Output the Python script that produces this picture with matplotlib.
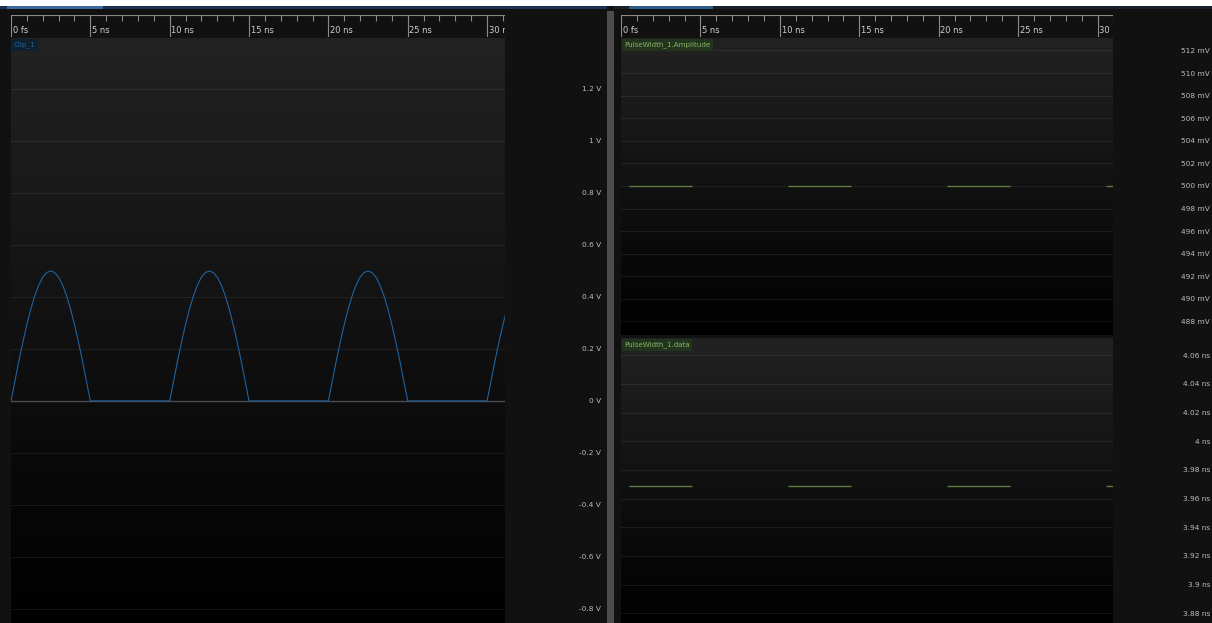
import numpy as np
import matplotlib
matplotlib.use('Agg')
from matplotlib import pyplot as plt
from matplotlib.colors import LinearSegmentedColormap
from matplotlib.transforms import offset_copy

# Clip_1: one half-sine hump (V), sampled every 0.25 ns, then flat zero half period
clip_step_ns = 0.25
clip_hump_v = [0.0, 0.078, 0.155, 0.227, 0.294, 0.354, 0.405, 0.446, 0.476, 0.494, 0.5,
               0.494, 0.476, 0.446, 0.405, 0.354, 0.294, 0.227, 0.155, 0.078, 0.0]
clip_flat_v = [0.0] * 19
n_cycles = 4

# PulseWidth_1 measurements
pulse_start_ns = [0.53, 10.53, 20.53, 30.53]
pulse_width_ns = [3.969, 3.969, 3.969, 3.969]
pulse_amp_mv = [500, 500, 500, 500]

volt_ticks = [1.2, 1.0, 0.8, 0.6, 0.4, 0.2, 0.0, -0.2, -0.4, -0.6, -0.8]
volt_labels = ['1.2 V', '1 V', '0.8 V', '0.6 V', '0.4 V', '0.2 V', '0 V',
               '-0.2 V', '-0.4 V', '-0.6 V', '-0.8 V']
amp_ticks = [512, 510, 508, 506, 504, 502, 500, 498, 496, 494, 492, 490, 488]
amp_labels = ['%d mV' % a for a in amp_ticks]
width_ticks = [4.06, 4.04, 4.02, 4.0, 3.98, 3.96, 3.94, 3.92, 3.9, 3.88]
width_labels = ['4.06 ns', '4.04 ns', '4.02 ns', '4 ns', '3.98 ns', '3.96 ns',
                '3.94 ns', '3.92 ns', '3.9 ns', '3.88 ns']
time_major = [0, 5, 10, 15, 20, 25, 30]
time_labels = ['0 fs', '5 ns', '10 ns', '15 ns', '20 ns', '25 ns', '30 ns']

W, H = 1212, 623
BG = '#111111'
TXT = '#bdbdbd'
plt.rcParams['font.family'] = ['DejaVu Sans']

fig = plt.figure(figsize=(W / 100, H / 100), dpi=100, facecolor=BG)


def px(x0, y0, x1, y1):
    return [x0 / W, 1 - y1 / H, (x1 - x0) / W, (y1 - y0) / H]


def bar(x0, y0, x1, y1, color, z=0):
    fig.patches.append(plt.Rectangle((x0 / W, 1 - y1 / H), (x1 - x0) / W, (y1 - y0) / H,
                                     transform=fig.transFigure, color=color, lw=0, zorder=z))


grad = LinearSegmentedColormap.from_list('g', ['#000000', '#222222'])


def panel(rect, xlim, ylim, ticks, labels, pad_px):
    ax = fig.add_axes(rect)
    ax.set_xlim(*xlim)
    ax.set_ylim(*ylim)
    ax.imshow(np.linspace(0, 1, 256).reshape(-1, 1)[::-1], cmap=grad, aspect='auto',
              extent=[0, 1, 0, 1], transform=ax.transAxes, zorder=0)
    for s in ax.spines.values():
        s.set_visible(False)
    ax.set_xticks([])
    ax.set_yticks(ticks)
    ax.set_yticklabels(labels)
    ax.yaxis.tick_right()
    ax.tick_params(axis='y', length=0, pad=pad_px * 0.72, labelsize=5.3, labelcolor=TXT)
    for lab in ax.get_yticklabels():
        lab.set_horizontalalignment('right')
    for t in ticks:
        ax.axhline(t, color='white', alpha=0.07, lw=0.8, zorder=1)
    return ax


def ruler(rect, xlim):
    ax = fig.add_axes(rect)
    ax.set_facecolor(BG)
    ax.set_xlim(*xlim)
    ax.set_ylim(0, 1)
    ax.axis('off')
    ax.axhline(1, color='#8a8a8a', lw=0.8)
    ax.vlines(np.arange(0, 32, 1), 0.72, 1, color='#8a8a8a', lw=0.8)
    ax.vlines(time_major, 0, 1, color='#8a8a8a', lw=0.8)
    tr = offset_copy(ax.transData, fig=fig, x=1.2, y=0, units='points')
    for t, lab in zip(time_major, time_labels):
        ax.text(t, 0.3, lab, transform=tr, fontsize=6.0, color='#d0d0d0',
                ha='left', va='center', clip_on=True)
    return ax


def tag(ax, name, fc, tc):
    ax.annotate(name, xy=(0, 1), xycoords='axes fraction', xytext=(2.2, -2.6),
                textcoords='offset points', ha='left', va='top', fontsize=5.1,
                color=tc, bbox=dict(boxstyle='square,pad=0.35', fc=fc, ec='none'), zorder=5)


# top strip and tab indicators
bar(0, 0, W, 6, 'white')
bar(0, 6, 607, 9, '#1b3350')
bar(7, 6, 103, 9, '#3a6a9e', 1)
bar(614, 6, W, 9, '#17202b')
bar(629, 6, 713, 9, '#2e5a88', 1)
# splitter
bar(607, 11, 614, H, '#4d4d4d')

xl_left = (0, 31.13)
xl_right = (0, 30.97)

# left: Clip_1
ax1 = panel(px(11, 38, 505, 623), xl_left, (-0.854, 1.396), volt_ticks, volt_labels, 96)
ax1.axhline(0, color='#4e4e4e', lw=1.0, zorder=2)
clip_v = np.tile(clip_hump_v[:-1] + clip_flat_v + [0.0], n_cycles)
clip_t = np.arange(len(clip_v)) * clip_step_ns
ax1.plot(clip_t, clip_v, color='#1f62a0', lw=0.8, zorder=3)
tag(ax1, 'Clip_1', '#0e2030', '#23639e')
ruler(px(11, 15, 505, 37), xl_left)

# right top: amplitude
ax2 = panel(px(621, 38, 1113, 335), xl_right, (486.8, 513.1), amp_ticks, amp_labels, 97)
starts = np.array(pulse_start_ns)
ends = starts + np.array(pulse_width_ns)
ax2.hlines(pulse_amp_mv, starts, ends, color='#5f7b43', lw=1.0, zorder=3)
tag(ax2, 'PulseWidth_1.Amplitude', '#22331e', '#8bb565')

# right bottom: pulse width
ax3 = panel(px(621, 338, 1113, 623), xl_right, (3.8732, 4.0721), width_ticks, width_labels, 97)
ax3.hlines(pulse_width_ns, starts, ends, color='#5f7b43', lw=1.0, zorder=3)
tag(ax3, 'PulseWidth_1.data', '#22331e', '#8bb565')
ruler(px(621, 15, 1113, 37), xl_right)

fig.savefig('out.png', dpi=100, facecolor=BG)
